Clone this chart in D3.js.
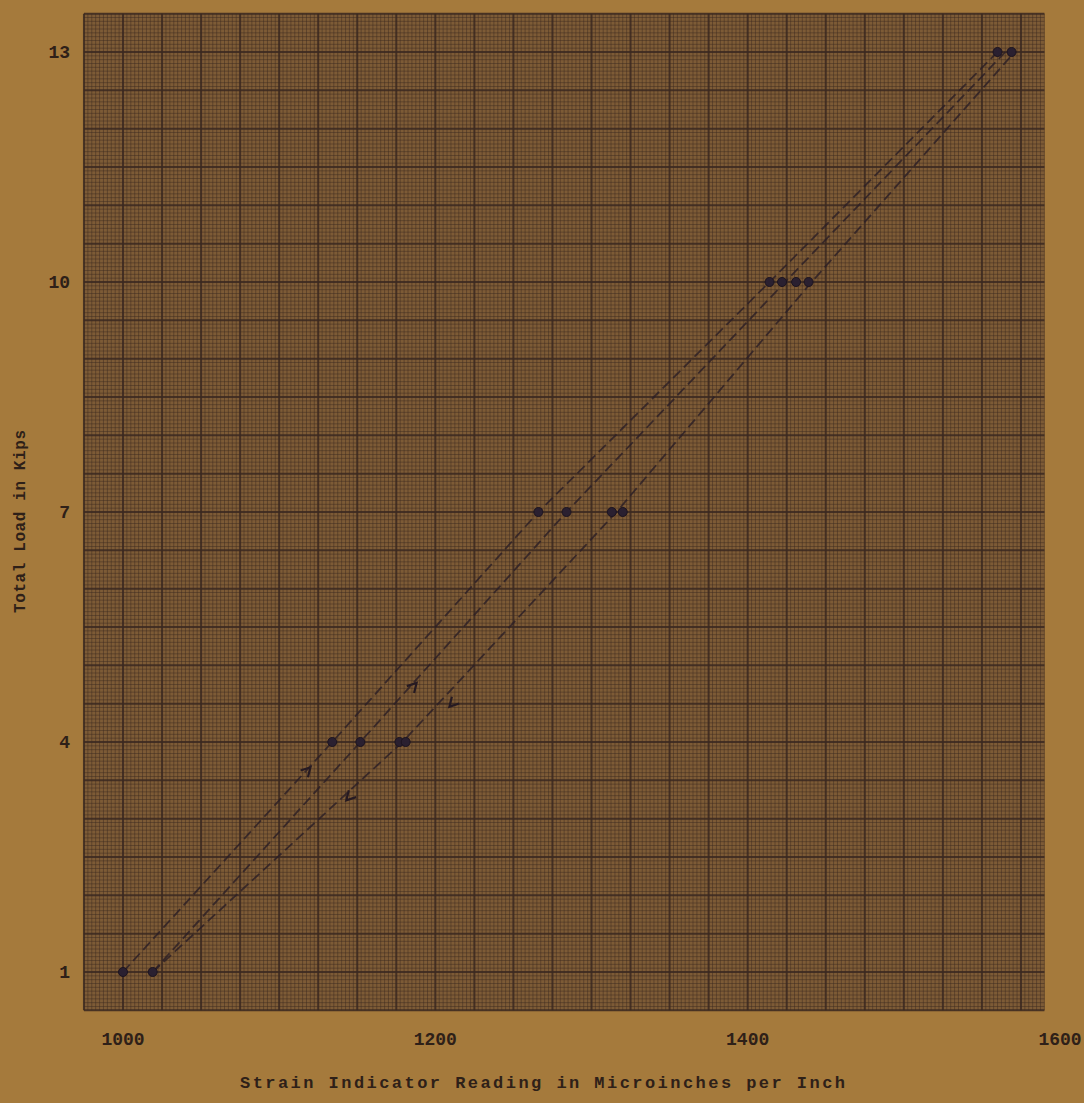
<!DOCTYPE html>
<html>
<head>
<meta charset="utf-8">
<script src="https://cdn.jsdelivr.net/npm/d3@7"></script>
<style>
  body { margin: 0; background: #a57a3c; }
  text { font-family: "Liberation Mono", "DejaVu Sans Mono", monospace; font-weight: bold; fill: #2e2018; }
</style>
</head>
<body>
<div id="chart"></div>
<script>
// load levels and strain readings
const loads = [1, 4, 7, 10, 13]
const pointLoads   = [1, 1, 4, 4, 4, 4, 7, 7, 7, 7, 10, 10, 10, 10, 13, 13]
const pointStrains = [1000, 1019, 1134, 1152, 1177, 1181, 1266, 1284, 1313, 1320, 1414, 1422, 1431, 1439, 1560, 1569]

// dashed runs through the points (strain at each load level)
const runA = [1000, 1134, 1266, 1414, 1560]
const runB = [1019, 1152, 1284, 1424, 1565]
const runC = [1019, 1179, 1316, 1441, 1571]

// direction arrows on the runs
const arrowStrains = [1143, 1209, 1188, 1120]
const arrowLoads   = [3.24, 4.46, 4.77, 3.67]
const arrowDirs    = [-1, -1, 1, 1]

const xTicks = [1000, 1200, 1400, 1600]
const yTicks = [1, 4, 7, 10, 13]

const width = 1084, height = 1103

const svg = d3.select("#chart")
  .append("svg")
    .attr("width", width)
    .attr("height", height)

svg.append("rect")
  .attr("width", width).attr("height", height)
  .attr("fill", "#a57a3c")

const x = d3.scaleLinear().domain([1000, 1600]).range([123, 1060])
const y = d3.scaleLinear().domain([1, 13]).range([972, 52])

// graph paper area
const gx0 = 975, gx1 = 1590, gy0 = 0.5, gy1 = 13.5
svg.append("rect")
  .attr("x", x(gx0)).attr("y", y(gy1))
  .attr("width", x(gx1) - x(gx0)).attr("height", y(gy0) - y(gy1))
  .attr("fill", "#7d5b36")

const fineX = d3.range(gx0, gx1 + 0.01, 2.5)
const fineY = d3.range(gy0, gy1 + 0.001, 0.05)
const grid = svg.append("g")

grid.selectAll("line.fx")
  .data(fineX)
  .join("line")
    .attr("x1", d => x(d)).attr("x2", d => x(d))
    .attr("y1", y(gy1)).attr("y2", y(gy0))
    .attr("stroke", "#3a2820")
    .attr("stroke-opacity", (d, i) => i % 10 === 0 ? 0.85 : 0.45)
    .attr("stroke-width", (d, i) => i % 10 === 0 ? 2 : 1)

grid.selectAll("line.fy")
  .data(fineY)
  .join("line")
    .attr("y1", d => y(d)).attr("y2", d => y(d))
    .attr("x1", x(gx0)).attr("x2", x(gx1))
    .attr("stroke", "#3a2820")
    .attr("stroke-opacity", (d, i) => i % 10 === 0 ? 0.85 : 0.45)
    .attr("stroke-width", (d, i) => i % 10 === 0 ? 2 : 1)

// dashed runs
const line = d3.line()
  .x(d => x(d[0]))
  .y(d => y(d[1]))

const runs = [runA, runB, runC]
svg.selectAll("path.run")
  .data(runs)
  .join("path")
    .attr("d", r => line(r.map((s, i) => [s, loads[i]])))
    .attr("fill", "none")
    .attr("stroke", "#2a1e26")
    .attr("stroke-width", 1.8)
    .attr("stroke-dasharray", "10,5")
    .attr("stroke-opacity", 0.8)

// arrows
svg.selectAll("path.arrow")
  .data(arrowStrains.map((s, i) => [s, arrowLoads[i], arrowDirs[i]]))
  .join("path")
    .attr("d", "M-9,-5 L0,0 L-9,5")
    .attr("transform", d => {
      const ang = d[2] > 0 ? -47 : 133
      return `translate(${x(d[0])},${y(d[1])}) rotate(${ang})`
    })
    .attr("fill", "none")
    .attr("stroke", "#261a22")
    .attr("stroke-width", 2.2)

// plotted points
svg.selectAll("circle.pt")
  .data(pointStrains.map((s, i) => [s, pointLoads[i]]))
  .join("circle")
    .attr("cx", d => x(d[0]))
    .attr("cy", d => y(d[1]))
    .attr("r", 4.5)
    .attr("fill", "#2a2030")
    .attr("stroke", "#1c1420")
    .attr("stroke-width", 1)

// tick labels
svg.selectAll("text.xt")
  .data(xTicks)
  .join("text")
    .attr("x", d => x(d))
    .attr("y", 1045)
    .attr("text-anchor", "middle")
    .style("font-size", "18px")
    .text(d => d)

svg.selectAll("text.yt")
  .data(yTicks)
  .join("text")
    .attr("x", 70)
    .attr("y", d => y(d) + 6)
    .attr("text-anchor", "end")
    .style("font-size", "18px")
    .text(d => d)

// axis titles
svg.append("text")
  .attr("x", 240)
  .attr("y", 1088)
  .attr("textLength", 605)
  .attr("lengthAdjust", "spacing")
  .style("font-size", "17px")
  .text("Strain Indicator Reading in Microinches per Inch")

svg.append("text")
  .attr("transform", "translate(25,613) rotate(-90)")
  .attr("textLength", 183)
  .attr("lengthAdjust", "spacing")
  .style("font-size", "16px")
  .text("Total Load in Kips")
</script>
</body>
</html>
